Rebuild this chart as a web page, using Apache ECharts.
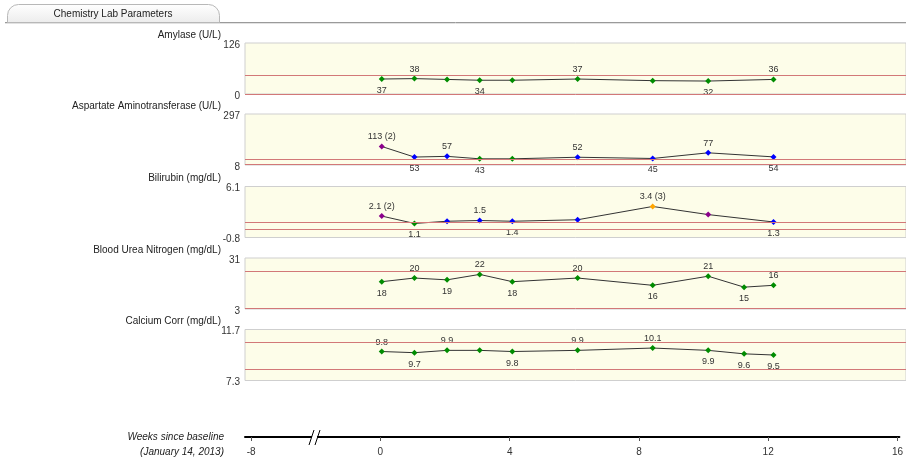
<!DOCTYPE html>
<html><head><meta charset="utf-8">
<script src="https://cdn.jsdelivr.net/npm/echarts@6/dist/echarts.min.js"></script>
<style>html,body{margin:0;padding:0;background:#fff}#c{width:906px;height:461px}</style>
</head><body><div id="c"></div>
<script>
// ---------- data ----------
const weeks = [0, 1, 2, 3, 4, 6, 8.3, 10, 11.1, 12];
const xTicks = [-4, 0, 4, 8, 12, 16];
const xTickLabels = ['-8', '0', '4', '8', '12', '16'];

const titles = ['Amylase (U/L)', 'Aspartate Aminotransferase (U/L)', 'Bilirubin (mg/dL)', 'Blood Urea Nitrogen (mg/dL)', 'Calcium Corr (mg/dL)'];

const amylase        = [37, 38, 36, 34, 34, 37, 33, 32, null, 36];
const amylaseGrade   = [0, 0, 0, 0, 0, 0, 0, 0, null, 0];
const amylaseLabeled = [1, 1, 0, 1, 0, 1, 0, 1, 0, 1];
const amylaseAxis    = [0, 126];
const amylaseNormal  = [0, 46];

const ast        = [113, 53, 57, 43, 43, 52, 45, 77, null, 54];
const astGrade   = [2, 1, 1, 0, 0, 1, 1, 1, null, 1];
const astLabeled = [1, 1, 1, 1, 0, 1, 1, 1, 0, 1];
const astAxis    = [8, 297];
const astNormal  = [12, 39];

const bili        = [2.1, 1.1, 1.4, 1.5, 1.4, 1.6, 3.4, 2.3, null, 1.3];
const biliGrade   = [2, 0, 1, 1, 1, 1, 3, 2, null, 1];
const biliLabeled = [1, 1, 0, 1, 1, 0, 1, 0, 0, 1];
const biliAxis    = [-0.8, 6.1];
const biliNormal  = [0.3, 1.2];

const bun        = [18, 20, 19, 22, 18, 20, 16, 21, 15, 16];
const bunGrade   = [0, 0, 0, 0, 0, 0, 0, 0, 0, 0];
const bunLabeled = [1, 1, 1, 1, 1, 1, 1, 1, 1, 1];
const bunAxis    = [3, 31];
const bunNormal  = [3.5, 24];

const calcium        = [9.8, 9.7, 9.9, 9.9, 9.8, 9.9, 10.1, 9.9, 9.6, 9.5];
const calciumGrade   = [0, 0, 0, 0, 0, 0, 0, 0, 0, 0];
const calciumLabeled = [1, 1, 1, 0, 1, 1, 1, 1, 1, 1];
const calciumAxis    = [7.3, 11.7];
const calciumNormal  = [8.3, 10.6];

// ---------- layout / style ----------
const gradeColors = ['#008c00', '#0000ff', '#8b008b', '#ffa500'];
const FONT = '"Liberation Sans", Arial, sans-serif';
const panelTops = [43, 114, 186.5, 258, 329.5];
const panelH = 51;
const GL = 245;
const XMIN = -4.19, XMAX = 16.06;
const REF = '#d27878';

const panels = [
  [amylase, amylaseGrade, amylaseLabeled, amylaseAxis, amylaseNormal],
  [ast, astGrade, astLabeled, astAxis, astNormal],
  [bili, biliGrade, biliLabeled, biliAxis, biliNormal],
  [bun, bunGrade, bunLabeled, bunAxis, bunNormal],
  [calcium, calciumGrade, calciumLabeled, calciumAxis, calciumNormal]
];

const grids = [], xAxes = [], yAxes = [], series = [], graphics = [];

panels.forEach((p, i) => {
  const [vals, grades, labeled, axis, normal] = p;
  grids.push({left: GL, right: 0, top: panelTops[i], height: panelH, show: true,
    backgroundColor: '#fdfde9', borderColor: '#cfcfcf', borderWidth: 1});
  xAxes.push({type: 'value', gridIndex: i, min: XMIN, max: XMAX, show: false});
  yAxes.push({type: 'value', gridIndex: i, min: axis[0], max: axis[1],
    axisLine: {show: false}, axisTick: {show: false}, splitLine: {show: false},
    axisLabel: {customValues: axis, margin: 5, fontSize: 10, color: '#333', fontFamily: FONT,
      verticalAlign: 'top', lineHeight: 10, padding: [-3, 0, 0, 0],
      formatter: v => String(v)}});
  const idx = vals.map((v, k) => v == null ? -1 : k).filter(k => k >= 0);
  const data = idx.map((k, j) => {
    const prev = j > 0 ? vals[idx[j - 1]] : null;
    const next = j < idx.length - 1 ? vals[idx[j + 1]] : null;
    const up = prev != null ? vals[k] >= prev : vals[k] >= next;
    const g = grades[k];
    return {
      value: [weeks[k], vals[k]],
      itemStyle: {color: gradeColors[g]},
      label: {show: !!labeled[k], position: up ? 'top' : 'bottom', distance: up ? 2 : 4,
        formatter: String(vals[k]) + (g >= 2 ? ' (' + g + ')' : '')}
    };
  });
  series.push({
    type: 'line', xAxisIndex: i, yAxisIndex: i, data: data,
    symbol: 'diamond', symbolSize: 6, animation: false, z: 3,
    lineStyle: {color: '#333', width: 1},
    label: {fontSize: 9, color: '#333', fontFamily: FONT},
    markLine: {silent: true, symbol: 'none', precision: 4,
      label: {show: false}, emphasis: {disabled: true},
      data: normal.map(v => ({yAxis: v, lineStyle: {color: REF, width: 1, type: 'solid', opacity: 1}}))}
  });
  graphics.push({type: 'text', x: 221, y: panelTops[i] - 8,
    style: {text: titles[i], align: 'right', verticalAlign: 'middle', font: '10px ' + FONT, fill: '#222'}});
});

// bottom time axis
grids.push({left: GL, right: 0, top: 436, height: 1, show: false});
xAxes.push({type: 'value', gridIndex: 5, min: XMIN, max: XMAX,
  axisLine: {lineStyle: {color: '#000', width: 2}},
  axisTick: {customValues: xTicks, length: 4, lineStyle: {color: '#555'}},
  splitLine: {show: false},
  axisLabel: {customValues: xTicks, margin: 10, fontSize: 10, color: '#333', fontFamily: FONT,
    formatter: v => xTickLabels[xTicks.indexOf(v)]}});
yAxes.push({type: 'value', gridIndex: 5, show: false, min: 0, max: 1});

// tab + decorations
graphics.push(
  {type: 'line', shape: {x1: 5, y1: 22.5, x2: 906, y2: 22.5}, style: {stroke: '#9a9a9a', lineWidth: 1}},
  {type: 'line', shape: {x1: 5, y1: 23.5, x2: 906, y2: 23.5}, style: {stroke: '#e2e2e2', lineWidth: 1}},
  {type: 'rect', shape: {x: 7.5, y: 4.5, width: 212, height: 18, r: [11, 11, 0, 0]},
    style: {fill: {type: 'linear', x: 0, y: 0, x2: 0, y2: 1,
      colorStops: [{offset: 0, color: '#ffffff'}, {offset: 1, color: '#ececec'}]},
      stroke: '#b8b8b8', lineWidth: 1}},
  {type: 'text', x: 113, y: 14, style: {text: 'Chemistry Lab Parameters', align: 'center', verticalAlign: 'middle',
    font: '10px ' + FONT, fill: '#222'}},
  {type: 'text', x: 224, y: 437, style: {text: 'Weeks since baseline', align: 'right', verticalAlign: 'middle',
    font: 'italic 10px ' + FONT, fill: '#222'}},
  {type: 'text', x: 224, y: 452, style: {text: '(January 14, 2013)', align: 'right', verticalAlign: 'middle',
    font: 'italic 10px ' + FONT, fill: '#222'}},
  {type: 'rect', z: 100, shape: {x: 312, y: 434, width: 5, height: 6}, style: {fill: '#fff'}},
  {type: 'line', z: 101, shape: {x1: 309, y1: 445, x2: 314, y2: 430}, style: {stroke: '#000', lineWidth: 1}},
  {type: 'line', z: 101, shape: {x1: 315, y1: 445, x2: 320, y2: 430}, style: {stroke: '#000', lineWidth: 1}}
);

const chart = echarts.init(document.getElementById('c'), null, {renderer: 'canvas'});
chart.setOption({
  animation: false,
  backgroundColor: '#fff',
  grid: grids, xAxis: xAxes, yAxis: yAxes, series: series, graphic: graphics
});
</script></body></html>
